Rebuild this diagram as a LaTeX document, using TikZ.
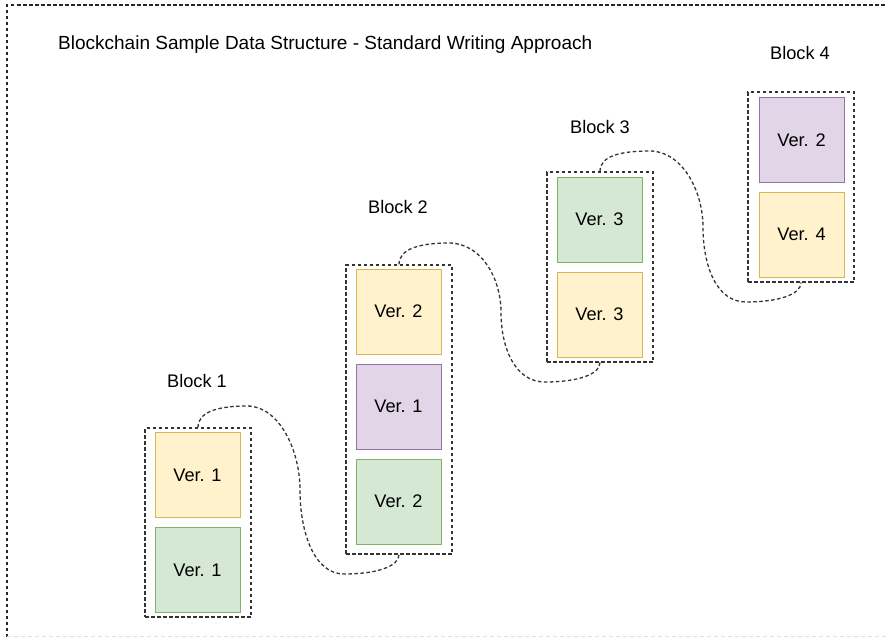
\documentclass[tikz,border=0pt]{standalone}
\usepackage{fontspec}
\setmainfont{Liberation Sans}
\definecolor{yelFill}{HTML}{FFF2CC}
\definecolor{yelLine}{HTML}{D6B656}
\definecolor{grnFill}{HTML}{D5E8D4}
\definecolor{grnLine}{HTML}{82B366}
\definecolor{purFill}{HTML}{E1D5E7}
\definecolor{purLine}{HTML}{9673A6}
\definecolor{inkGray}{HTML}{333333}
\begin{document}
\begin{tikzpicture}[x=1pt,y=-1pt,
  txt/.style={font=\fontsize{18.2}{21}\selectfont, text=black, inner sep=0pt},
  ver/.style={txt, draw, line width=1pt, minimum width=85pt, minimum height=85pt},
  yel/.style={ver, fill=yelFill, draw=yelLine},
  grn/.style={ver, fill=grnFill, draw=grnLine},
  pur/.style={ver, fill=purFill, draw=purLine},
  holder/.style={draw=inkGray, line width=1.2pt, dash pattern=on 3.5pt off 2.5pt, minimum width=106pt, inner sep=0pt},
  link/.style={draw=inkGray, line width=1.3pt, dash pattern=on 3.5pt off 2.5pt},
  outer/.style={draw=black!85, line width=1.2pt, dash pattern=on 3.5pt off 2.5pt}]
\useasboundingbox (0,0) rectangle (887,637);

% page frame
\draw[outer] (7,637) -- (7,5) -- (887,5);
\draw[draw=black!12, line width=1pt, dash pattern=on 4pt off 3pt] (7,636) -- (887,636);

% title
\node[txt, anchor=west, font=\fontsize{19}{22}\selectfont] (title) at (58,45) {Blockchain Sample Data Structure - Standard Writing Approach};

% block containers
\node[holder, minimum height=189pt] (c1) at (198,522.5) {};
\node[holder, minimum height=289pt] (c2) at (399,409.5) {};
\node[holder, minimum height=190pt] (c3) at (600,267) {};
\node[holder, minimum height=190pt] (c4) at (801,187) {};

% block labels
\node[txt] (l1) at (197,381) {Block 1};
\node[txt] (l2) at (398,207) {Block 2};
\node[txt] (l3) at (600,127) {Block 3};
\node[txt] (l4) at (800,53) {Block 4};

% block 1
\node[yel] (b1a) at (197.5,475) {Ver. 1};
\node[grn] (b1b) at (197.5,570) {Ver. 1};
% block 2
\node[yel] (b2a) at (398.5,311.5) {Ver. 2};
\node[pur] (b2b) at (398.5,406.5) {Ver. 1};
\node[grn] (b2c) at (398.5,501.5) {Ver. 2};
% block 3
\node[grn] (b3a) at (599.5,219.5) {Ver. 3};
\node[yel] (b3b) at (599.5,314.5) {Ver. 3};
% block 4
\node[pur] (b4a) at (801.5,140) {Ver. 2};
\node[yel] (b4b) at (801.5,234.5) {Ver. 4};

% waypoints of the chain links
\coordinate (p1) at (247,406); \coordinate (m1) at (300,490); \coordinate (q1) at (344,574);
\coordinate (p2) at (449,243); \coordinate (m2) at (501,312); \coordinate (q2) at (545,382);
\coordinate (p3) at (650,151); \coordinate (m3) at (703,227); \coordinate (q3) at (746,302);

% chain links
\draw[link] (c1.north) .. controls +(0,-16) and +(-28,0) .. (p1)
  .. controls +(32,0) and +(0,-40) .. (m1)
  .. controls +(0,42) and +(-30,0) .. (q1)
  .. controls +(32,0) and +(0,12) .. (c2.south);
\draw[link] (c2.north) .. controls +(0,-16) and +(-28,0) .. (p2)
  .. controls +(32,0) and +(0,-34) .. (m2)
  .. controls +(0,36) and +(-30,0) .. (q2)
  .. controls +(32,0) and +(0,12) .. (c3.south);
\draw[link] (c3.north) .. controls +(0,-16) and +(-28,0) .. (p3)
  .. controls +(32,0) and +(0,-36) .. (m3)
  .. controls +(0,38) and +(-30,0) .. (q3)
  .. controls +(32,0) and +(0,12) .. (c4.south);
\end{tikzpicture}
\end{document}
